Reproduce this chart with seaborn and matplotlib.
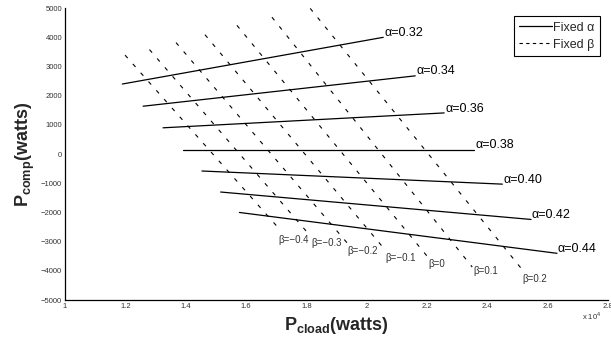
import matplotlib
matplotlib.use("Agg")
import matplotlib.pyplot as plt
import seaborn as sns
from matplotlib.lines import Line2D
from matplotlib.ticker import FuncFormatter, MultipleLocator

# ---- data (watts) ----
alpha_labels = ['α=0.32', 'α=0.34', 'α=0.36', 'α=0.38', 'α=0.40', 'α=0.42', 'α=0.44']
alpha_x0 = [11900, 12590, 13250, 13900, 14540, 15160, 15780]
alpha_y0 = [2400, 1640, 900, 150, -580, -1300, -2000]
alpha_x1 = [20550, 21610, 22570, 23570, 24500, 25450, 26310]
alpha_y1 = [4000, 2680, 1410, 150, -1030, -2240, -3400]

beta_labels = ['β=−0.4', 'β=−0.3', 'β=−0.2', 'β=−0.1', 'β=0', 'β=0.1', 'β=0.2']
beta_x0 = [11990, 12800, 13680, 14640, 15700, 16860, 18130]
beta_y0 = [3390, 3580, 3820, 4090, 4410, 4690, 4990]
beta_x1 = [17160, 18130, 19350, 20610, 22110, 23500, 25190]
beta_y1 = [-2630, -2800, -3040, -3280, -3630, -3870, -4000]
beta_lab_x = [17060, 18160, 19350, 20610, 22040, 23530, 25160]
beta_lab_y = [-2940, -3040, -3320, -3560, -3760, -4000, -4280]

sns.set_theme(style="white")
plt.rcParams['font.family'] = ['Liberation Sans', 'DejaVu Sans']
plt.rcParams['mathtext.fontset'] = 'custom'
plt.rcParams['mathtext.rm'] = 'Liberation Sans'
plt.rcParams['mathtext.bf'] = 'Liberation Sans:bold'

DASH = (0, (3.6, 7.0))

fig = plt.figure(figsize=(6.11, 3.39), dpi=100)
ax = fig.add_axes([0.1064, 0.115, 0.8886, 0.861])

for i in range(len(alpha_labels)):
    sns.lineplot(x=[alpha_x0[i], alpha_x1[i]], y=[alpha_y0[i], alpha_y1[i]], ax=ax,
                 color='black', linewidth=0.9, sort=False)
    ax.text(alpha_x1[i] + 30, alpha_y1[i] + 150, alpha_labels[i], fontsize=9,
            ha='left', va='center', color='black')

for i in range(len(beta_labels)):
    sns.lineplot(x=[beta_x0[i], beta_x1[i]], y=[beta_y0[i], beta_y1[i]], ax=ax,
                 color='black', linewidth=0.8, linestyle=DASH, sort=False)
    ax.text(beta_lab_x[i], beta_lab_y[i], beta_labels[i], fontsize=7,
            ha='left', va='center', color='#333333')

ax.set_xlim(10000, 28000)
ax.set_ylim(-5000, 5000)
ax.xaxis.set_major_locator(MultipleLocator(2000))
ax.yaxis.set_major_locator(MultipleLocator(1000))
ax.xaxis.set_major_formatter(FuncFormatter(lambda v, p: f"{v/1e4:g}"))
ax.yaxis.set_major_formatter(FuncFormatter(lambda v, p: f"{int(v)}".replace('-', '−')))
ax.tick_params(axis='both', direction='in', length=3, width=0.8, labelsize=5.5,
               labelcolor='#333333', color='black', pad=2)
for s in ['top', 'right']:
    ax.spines[s].set_visible(False)
for s in ['left', 'bottom']:
    ax.spines[s].set_color('black')
    ax.spines[s].set_linewidth(0.9)

ax.set_xlabel(r'$\mathbf{P_{cload}}$(watts)', fontsize=13, fontweight='bold', labelpad=4)
ax.set_ylabel(r'$\mathbf{P_{comp}}$(watts)', fontsize=13, fontweight='bold', labelpad=3)
fig.text(0.953, 0.068, r'x 10$^4$', fontsize=5.5, color='#333333', ha='left', va='center')

handles = [Line2D([], [], color='black', linewidth=0.9),
           Line2D([], [], color='black', linewidth=0.8, linestyle=(0, (3.0, 3.0)))]
leg = ax.legend(handles, ['Fixed α', 'Fixed β'], loc='upper right', bbox_to_anchor=(0.9855, 0.973),
                fontsize=9, fancybox=False, framealpha=1, edgecolor='black',
                handlelength=2.6, handletextpad=0.1, borderpad=0.45, labelspacing=0.4,
                borderaxespad=0)
leg.get_frame().set_linewidth(0.8)

fig.savefig('out.png', dpi=100)
